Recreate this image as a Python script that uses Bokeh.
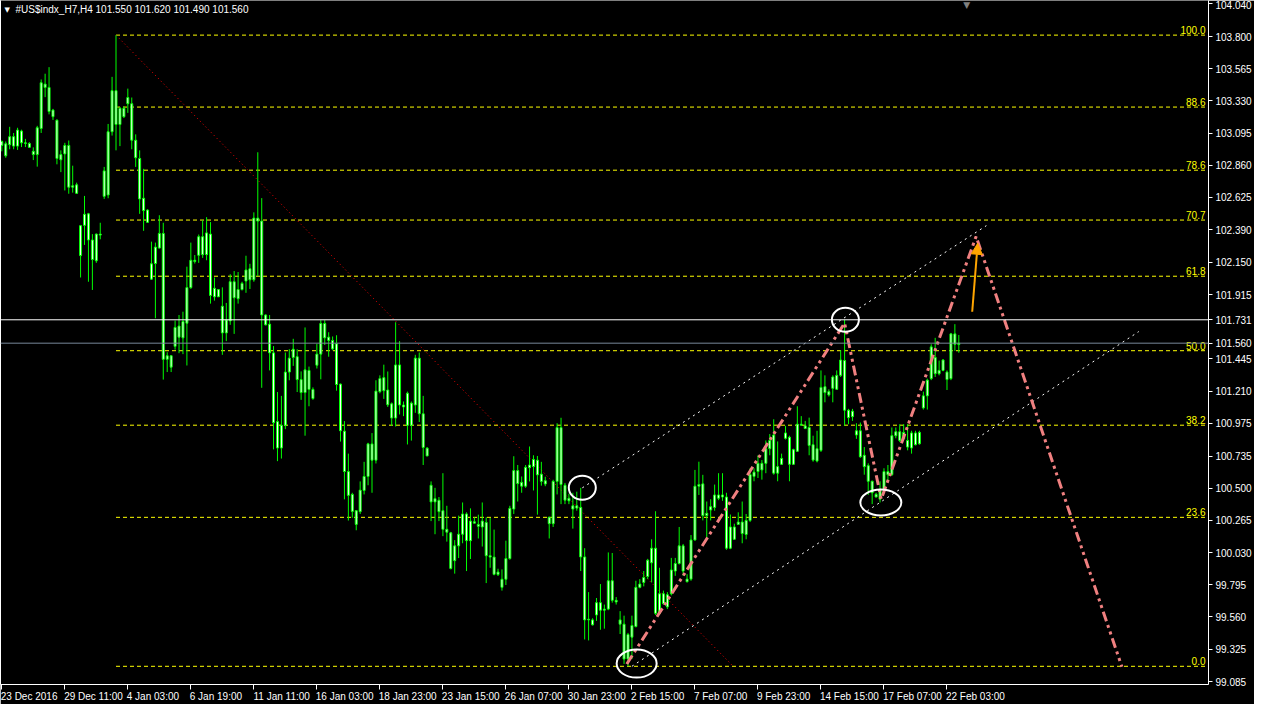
import numpy as np
from bokeh.plotting import figure
from bokeh.models import (ColumnDataSource, FixedTicker, LinearAxis, Range1d, Span,
                          Arrow, NormalHead, PrintfTickFormatter)
from bokeh.core.properties import value
from bokeh.embed import file_html
from bokeh.resources import INLINE

# ---------------- data (H4 candles) ----------------
opens = [103.005, 103.017, 103.010, 103.069, 103.000, 103.110, 103.024, 103.019, 102.962, 102.938,
         103.129, 103.453, 103.429, 103.263, 103.189, 102.900, 102.943, 103.005, 102.700, 102.717,
         102.200, 102.421, 102.505, 102.314, 102.162, 102.357, 102.633, 102.643, 103.105, 103.405,
         103.158, 103.277, 103.310, 103.310, 103.043, 102.910, 102.619, 102.533, 102.028, 102.142,
         102.255, 102.362, 101.442, 101.468, 101.537, 101.685, 101.599, 101.706, 101.966, 102.166,
         102.202, 102.338, 102.207, 102.357, 101.899, 101.952, 101.830, 101.635, 101.723, 102.009,
         101.885, 101.952, 102.014, 102.104, 102.023, 102.474, 102.452, 101.766, 101.699, 101.489,
         100.987, 100.794, 100.960, 101.349, 101.456, 101.461, 101.294, 101.199, 101.361, 101.222,
         101.399, 101.480, 101.704, 101.604, 101.580, 101.556, 101.261, 100.917, 100.622, 100.455,
         100.336, 100.329, 100.484, 100.586, 100.824, 100.705, 101.206, 101.308, 101.218, 101.117,
         101.013, 101.401, 101.108, 101.194, 100.960, 101.108, 101.451, 101.044, 100.793, 100.522,
         100.400, 100.412, 100.336, 100.200, 100.174, 99.971, 100.079, 100.164, 100.312, 100.117,
         100.255, 100.236, 100.217, 100.250, 100.007, 99.997, 99.869, 99.835, 99.835, 99.986,
         100.348, 100.629, 100.543, 100.515, 100.650, 100.658, 100.705, 100.603, 100.555, 100.288,
         100.241, 100.550, 100.943, 100.522, 100.408, 100.372, 100.355, 100.360, 99.998, 99.538,
         99.538, 99.574, 99.664, 99.609, 99.617, 99.824, 99.681, 99.538, 99.507, 99.252,
         99.412, 99.490, 99.776, 99.812, 99.855, 99.955, 100.062, 99.586, 99.729, 99.633,
         99.729, 99.895, 99.950, 100.079, 99.836, 99.836, 100.122, 100.515, 100.532, 100.300,
         100.341, 100.360, 100.451, 100.436, 100.436, 100.062, 100.217, 100.236, 100.253, 100.162,
         100.265, 100.587, 100.622, 100.682, 100.682, 100.789, 100.889, 100.610, 100.675, 100.865,
         100.873, 100.675, 100.770, 100.968, 100.956, 100.944, 100.818, 100.699, 100.777, 101.242,
         101.182, 101.230, 101.223, 101.325, 101.433, 101.070, 101.023, 100.920, 100.920, 100.741,
         100.665, 100.551, 100.456, 100.420, 100.491, 100.622, 100.599, 100.884, 100.913, 100.861,
         100.849, 100.794, 100.904, 100.825, 101.087, 101.175, 101.301, 101.456, 101.337, 101.361,
         101.349, 101.301, 101.628, 101.550]
highs = [103.041, 103.034, 103.141, 103.096, 103.134, 103.120, 103.053, 103.029, 102.991, 103.148,
         103.487, 103.529, 103.577, 103.272, 103.196, 102.969, 103.024, 103.041, 102.857, 102.733,
         102.424, 102.636, 102.512, 102.357, 102.362, 102.440, 102.848, 103.162, 103.506, 103.811,
         103.286, 103.291, 103.420, 103.355, 103.086, 102.969, 102.834, 102.538, 102.302, 102.295,
         102.495, 102.440, 101.494, 101.471, 101.725, 101.766, 101.790, 102.119, 102.295, 102.204,
         102.354, 102.457, 102.481, 102.445, 102.040, 101.956, 101.968, 101.854, 102.064, 102.087,
         102.080, 102.009, 102.199, 102.140, 102.516, 102.955, 102.620, 101.771, 101.766, 101.539,
         101.203, 101.175, 101.492, 101.516, 101.592, 101.516, 101.354, 101.675, 101.389, 101.237,
         101.556, 101.728, 101.728, 101.640, 101.609, 101.618, 101.265, 100.991, 100.753, 100.467,
         100.341, 100.550, 100.693, 100.832, 100.903, 101.289, 101.325, 101.403, 101.353, 101.127,
         101.713, 101.575, 101.134, 101.206, 101.134, 101.475, 101.492, 101.175, 100.801, 100.550,
         100.503, 100.436, 100.610, 100.372, 100.181, 100.121, 100.300, 100.396, 100.324, 100.353,
         100.288, 100.307, 100.396, 100.288, 100.283, 100.198, 99.912, 99.907, 100.117, 100.372,
         100.734, 100.670, 100.586, 100.670, 100.805, 100.741, 100.736, 100.693, 100.584, 100.293,
         100.562, 100.975, 101.015, 100.539, 100.460, 100.467, 100.475, 100.503, 100.062, 99.741,
         99.550, 99.698, 99.800, 99.650, 100.031, 100.027, 99.705, 99.602, 99.569, 99.443,
         99.569, 99.824, 99.836, 99.895, 99.984, 100.127, 100.332, 99.919, 99.752, 99.741,
         99.991, 99.991, 100.217, 100.093, 99.872, 100.158, 100.634, 100.694, 100.598, 100.403,
         100.420, 100.527, 100.610, 100.610, 100.467, 100.308, 100.241, 100.324, 100.403, 100.312,
         100.646, 100.646, 100.741, 100.706, 100.849, 100.896, 101.004, 100.842, 100.753, 100.956,
         100.884, 100.789, 101.099, 101.027, 100.992, 101.016, 100.884, 100.920, 101.361, 101.325,
         101.223, 101.325, 101.361, 101.509, 101.731, 101.080, 101.080, 100.975, 100.980, 100.801,
         100.682, 100.556, 100.467, 100.551, 100.646, 100.670, 100.944, 100.944, 100.968, 100.968,
         100.968, 100.920, 100.920, 100.920, 101.206, 101.301, 101.552, 101.599, 101.433, 101.444,
         101.361, 101.635, 101.699, 101.620]
lows = [102.962, 102.915, 102.977, 102.977, 102.972, 102.993, 102.993, 102.986, 102.898, 102.850,
        103.096, 103.358, 103.232, 103.191, 102.867, 102.810, 102.676, 102.652, 102.660, 102.650,
        102.040, 102.278, 102.009, 101.949, 102.147, 102.319, 102.614, 102.619, 103.077, 102.969,
        103.000, 103.205, 103.243, 102.977, 102.848, 102.505, 102.381, 102.438, 102.023, 101.742,
        102.252, 101.294, 101.349, 101.349, 101.513, 101.487, 101.480, 101.397, 101.957, 102.142,
        102.147, 102.183, 102.166, 101.849, 101.871, 101.897, 101.475, 101.575, 101.694, 101.628,
        101.849, 101.945, 101.928, 101.956, 102.009, 102.052, 101.234, 101.690, 101.361, 100.784,
        100.698, 100.717, 100.932, 101.289, 101.394, 101.203, 101.146, 100.884, 101.099, 101.146,
        101.375, 101.296, 101.547, 101.461, 101.508, 101.213, 100.841, 100.419, 100.264, 100.284,
        100.193, 100.312, 100.455, 100.522, 100.467, 100.681, 101.194, 101.153, 101.094, 100.955,
        100.951, 101.039, 101.027, 100.820, 100.848, 101.051, 100.984, 100.670, 100.734, 100.260,
        100.164, 100.260, 100.150, 100.110, 99.907, 99.876, 99.990, 100.098, 99.895, 99.983,
        100.245, 100.133, 100.074, 99.807, 99.919, 99.864, 99.859, 99.752, 99.793, 99.978,
        100.312, 100.403, 100.467, 100.503, 100.550, 100.484, 100.307, 100.519, 100.515, 100.133,
        100.217, 100.455, 100.384, 100.384, 100.384, 100.205, 100.336, 99.895, 99.395, 99.388,
        99.497, 99.531, 99.466, 99.474, 99.609, 99.664, 99.650, 99.435, 99.216, 99.199,
        99.252, 99.483, 99.769, 99.783, 99.836, 99.812, 99.574, 99.574, 99.650, 99.617,
        99.717, 99.860, 99.943, 99.860, 99.812, 99.824, 100.117, 100.451, 100.265, 100.122,
        100.265, 100.336, 100.413, 100.408, 100.050, 100.055, 100.122, 100.236, 100.098, 100.127,
        100.253, 100.551, 100.575, 100.563, 100.610, 100.741, 100.599, 100.551, 100.670, 100.856,
        100.551, 100.670, 100.765, 100.956, 100.932, 100.741, 100.694, 100.689, 100.765, 101.128,
        101.170, 101.128, 101.218, 101.313, 100.956, 100.968, 100.992, 100.861, 100.722, 100.599,
        100.451, 100.384, 100.432, 100.396, 100.479, 100.560, 100.590, 100.865, 100.837, 100.856,
        100.777, 100.753, 100.813, 100.818, 101.075, 101.075, 101.290, 101.313, 101.325, 101.355,
        101.218, 101.290, 101.504, 101.490]
closes = [103.034, 102.929, 103.069, 103.000, 103.117, 103.024, 103.019, 102.991, 102.938, 103.134,
          103.463, 103.429, 103.253, 103.215, 102.910, 102.938, 103.005, 102.700, 102.710, 102.655,
          102.419, 102.502, 102.314, 102.171, 102.357, 102.350, 102.819, 103.105, 103.405, 103.158,
          103.277, 103.215, 103.355, 103.043, 102.915, 102.614, 102.529, 102.443, 102.140, 102.262,
          102.362, 101.442, 101.468, 101.385, 101.675, 101.604, 101.718, 101.966, 102.166, 102.157,
          102.338, 102.207, 102.366, 101.909, 101.961, 101.899, 101.635, 101.730, 102.009, 101.892,
          101.952, 101.997, 102.095, 102.023, 102.474, 102.452, 101.766, 101.694, 101.489, 100.979,
          100.794, 100.960, 101.349, 101.451, 101.516, 101.294, 101.199, 101.365, 101.222, 101.156,
          101.480, 101.704, 101.599, 101.580, 101.518, 101.258, 100.920, 100.622, 100.448, 100.331,
          100.236, 100.486, 100.586, 100.824, 100.705, 101.210, 101.301, 101.213, 101.110, 101.013,
          101.401, 101.108, 101.094, 100.960, 101.122, 101.451, 101.044, 100.798, 100.736, 100.400,
          100.424, 100.329, 100.200, 100.179, 99.914, 100.079, 100.164, 100.312, 100.117, 100.260,
          100.245, 100.222, 100.260, 100.007, 99.997, 99.871, 99.888, 99.776, 99.986, 100.353,
          100.629, 100.534, 100.515, 100.653, 100.670, 100.710, 100.598, 100.550, 100.531, 100.241,
          100.550, 100.943, 100.527, 100.413, 100.427, 100.348, 100.372, 99.998, 99.538, 99.543,
          99.502, 99.664, 99.609, 99.617, 99.824, 99.681, 99.669, 99.507, 99.252, 99.431,
          99.497, 99.776, 99.800, 99.848, 99.974, 100.062, 99.586, 99.729, 99.657, 99.722,
          99.903, 99.950, 100.079, 99.895, 99.817, 100.122, 100.515, 100.527, 100.300, 100.317,
          100.365, 100.451, 100.427, 100.451, 100.062, 100.217, 100.127, 100.253, 100.169, 100.265,
          100.600, 100.618, 100.682, 100.634, 100.789, 100.849, 100.610, 100.658, 100.718, 100.904,
          100.675, 100.782, 100.968, 100.961, 100.937, 100.813, 100.706, 100.789, 101.237, 101.199,
          101.206, 101.313, 101.325, 101.437, 101.070, 101.016, 101.063, 100.889, 100.730, 100.658,
          100.551, 100.467, 100.436, 100.491, 100.622, 100.599, 100.884, 100.913, 100.849, 100.908,
          100.801, 100.904, 100.818, 100.908, 101.175, 101.290, 101.533, 101.337, 101.361, 101.437,
          101.294, 101.628, 101.552, 101.560]

x_tick_bars = [0, 16, 32, 48, 64, 80, 96, 112, 128, 144, 160, 176, 192, 208, 224, 240]
x_tick_labels = ["23 Dec 2016", "29 Dec 11:00", "4 Jan 03:00", "6 Jan 19:00", "11 Jan 11:00",
                 "16 Jan 03:00", "18 Jan 23:00", "23 Jan 15:00", "26 Jan 07:00", "30 Jan 23:00",
                 "2 Feb 15:00", "7 Feb 07:00", "9 Feb 23:00", "14 Feb 15:00", "17 Feb 07:00",
                 "22 Feb 03:00"]
# price scale labels (101.680 is hidden behind the price boxes in the terminal)
y_tick_values = [104.040, 103.800, 103.565, 103.330, 103.095, 102.860, 102.625, 102.390, 102.150,
                 101.915, 101.445, 101.210, 100.975, 100.735, 100.500, 100.265, 100.030,
                 99.795, 99.560, 99.325, 99.085]

title_text = "#US$indx_H7,H4  101.550 101.620 101.490 101.560"

# Fibonacci retracement (from the high of bar 29 to the low of the move)
fib_ratios = [0.0, 23.6, 38.2, 50.0, 61.8, 70.7, 78.6, 88.6, 100.0]
fib_high = 103.811
fib_low = 99.199
fib_start_bar = 29
fib_trend_x = [29, 185.7]
fib_trend_y = [103.811, 99.199]

# horizontal price lines (shown on the price scale too)
level_line = 101.731
bid_price = 101.560

# dotted channel (white)
chan_x0 = [147.4, 160.0]
chan_y0 = [100.503, 99.199]
chan_x1 = [250.0, 288.7]
chan_y1 = [102.419, 101.645]

# dash-dot zigzag projection
zz_x = [158.7, 214.0, 223.3, 247.4, 284.4]
zz_y = [99.216, 101.707, 100.420, 102.340, 99.196]

# orange arrow
arrow_x = [246.4, 247.8]
arrow_y = [101.790, 102.290]

# circles marking swing points
ell_x = [147.4, 214.2, 223.2, 161.2]
ell_y = [100.503, 101.731, 100.396, 99.219]
ell_w = [27, 27, 41, 40]
ell_h = [24, 24, 26, 28]

shift_bar = 245

# ---------------- figure ----------------
FONT = "Liberation Sans"
LIME = "#00FF00"
X0, X1 = -0.33, 306.4
Y0, Y1 = 99.066, 104.064
W, H = 1254, 704

p = figure(width=W, height=H, output_backend="svg", toolbar_location=None,
           x_range=Range1d(X0, X1), y_range=Range1d(Y0, Y1), y_axis_location="right",
           background_fill_color="black", border_fill_color="black",
           min_border_left=0, min_border_top=0, min_border_bottom=19, min_border_right=0)
p.outline_line_color = None
p.xgrid.visible = False
p.ygrid.visible = False

ya = p.yaxis[0]
ya.ticker = FixedTicker(ticks=sorted(y_tick_values + [level_line, bid_price]))
ya.formatter = PrintfTickFormatter(format="%.3f")
ya.axis_line_color = "white"
ya.major_tick_line_color = "white"
ya.major_tick_out = 4
ya.major_tick_in = 0
ya.minor_tick_line_color = None
ya.major_label_text_color = "white"
ya.major_label_text_font = FONT
ya.major_label_text_font_size = "10px"
ya.major_label_standoff = 3

# bottom axis 1: the line and the tick marks
xa = p.xaxis[0]
xa.ticker = FixedTicker(ticks=x_tick_bars)
xa.major_label_overrides = {t: "" for t in x_tick_bars}
xa.axis_line_color = "white"
xa.major_tick_line_color = "white"
xa.major_tick_out = 5
xa.major_tick_in = 0
xa.minor_tick_line_color = None
xa.major_label_text_font_size = "1px"
xa.major_label_standoff = 0

# bottom axis 2: the time labels, left-aligned at their ticks as in the terminal
CHAR_W = {" ": 278, ":": 278, "D": 722, "J": 500, "F": 611, "e": 556, "c": 500, "a": 556,
          "n": 556, "b": 556}
def text_px(s, size=10):
    return sum(CHAR_W.get(ch, 556) for ch in s) * size / 1000.0

px_per_bar = (W - 44) / (X1 - X0)
label_pos = [round(b + (text_px(t) / 2.0 - 1) / px_per_bar, 3) for b, t in zip(x_tick_bars, x_tick_labels)]
time_axis = LinearAxis(ticker=FixedTicker(ticks=label_pos),
                       major_label_overrides={pos: t for pos, t in zip(label_pos, x_tick_labels)},
                       axis_line_color=None, major_tick_line_color=None, minor_tick_line_color=None,
                       major_tick_out=0, major_tick_in=0, major_label_standoff=1,
                       major_label_text_color="white", major_label_text_font=FONT,
                       major_label_text_font_size="10px")
p.add_layout(time_axis, "below")

left_axis = LinearAxis(ticker=FixedTicker(ticks=[]), axis_line_color="white",
                       major_tick_line_color=None, minor_tick_line_color=None,
                       major_label_text_font_size="1px", major_label_standoff=0)
p.add_layout(left_axis, "left")

# fibonacci levels
fib_levels = [fib_low + r / 100.0 * (fib_high - fib_low) for r in fib_ratios]
p.segment(x0=[fib_start_bar] * len(fib_levels), y0=fib_levels, x1=[X1] * len(fib_levels), y1=fib_levels,
          line_color="#FFFF00", line_dash="4 3", line_width=1)
p.text(x=[X1] * len(fib_levels), y=fib_levels, text=[f"{r:.1f}" for r in fib_ratios],
       text_align="right", text_baseline="bottom", x_offset=-3, y_offset=-1,
       text_color="#FFFF00", text_font=value(FONT), text_font_size="10px")
p.line(x=fib_trend_x, y=fib_trend_y, line_color="#FF0000", line_dash="1 3", line_width=1)

# price lines
p.add_layout(Span(location=bid_price, dimension="width", line_color="#778899", line_width=1))
p.add_layout(Span(location=level_line, dimension="width", line_color="white", line_width=1))

# candles
bars = list(range(len(opens)))
tops = np.maximum(opens, closes)
bottoms = np.minimum(opens, closes)
src = ColumnDataSource(dict(x=bars, o=opens, h=highs, l=lows, c=closes, top=tops, bottom=bottoms))
p.segment(x0="x", y0="l", x1="x", y1="h", source=src, line_color=LIME, line_width=1)
p.vbar(x="x", width=0.5, top="top", bottom="bottom", source=src,
       fill_color="white", line_color=LIME, line_width=1)

# channel lines
p.segment(x0=chan_x0, y0=chan_y0, x1=chan_x1, y1=chan_y1, line_color="white",
          line_dash="2 4", line_width=1)

# zigzag projection
p.line(x=zz_x, y=zz_y, line_color="#F08080", line_width=3, line_dash="10 4 3 4 3 4")

# circles
p.ellipse(x=ell_x, y=ell_y, width=ell_w, height=ell_h, width_units="screen", height_units="screen",
          fill_color=None, line_color="white", line_width=2)

# orange arrow
ORANGE = "#FFA500"
p.add_layout(Arrow(end=NormalHead(size=11, fill_color=ORANGE, line_color=ORANGE),
                   x_start=arrow_x[0], y_start=arrow_y[0], x_end=arrow_x[1], y_end=arrow_y[1],
                   line_color=ORANGE, line_width=2))

# title and markers
p.text(x=[X0], y=[Y1], text=["\u25BC"], x_offset=4, y_offset=5, text_baseline="top",
       text_color="white", text_font=value("DejaVu Sans"), text_font_size="7px")
p.text(x=[X0], y=[Y1], text=[title_text], x_offset=15, y_offset=3, text_baseline="top",
       text_color="white", text_font=value(FONT), text_font_size="10px")
p.text(x=[shift_bar], y=[Y1], text=["\u25BC"], text_align="center", text_baseline="top",
       y_offset=-1, text_color="#808080", text_font=value("DejaVu Sans"), text_font_size="9px")

open("out.html", "w").write(file_html(p, INLINE))
